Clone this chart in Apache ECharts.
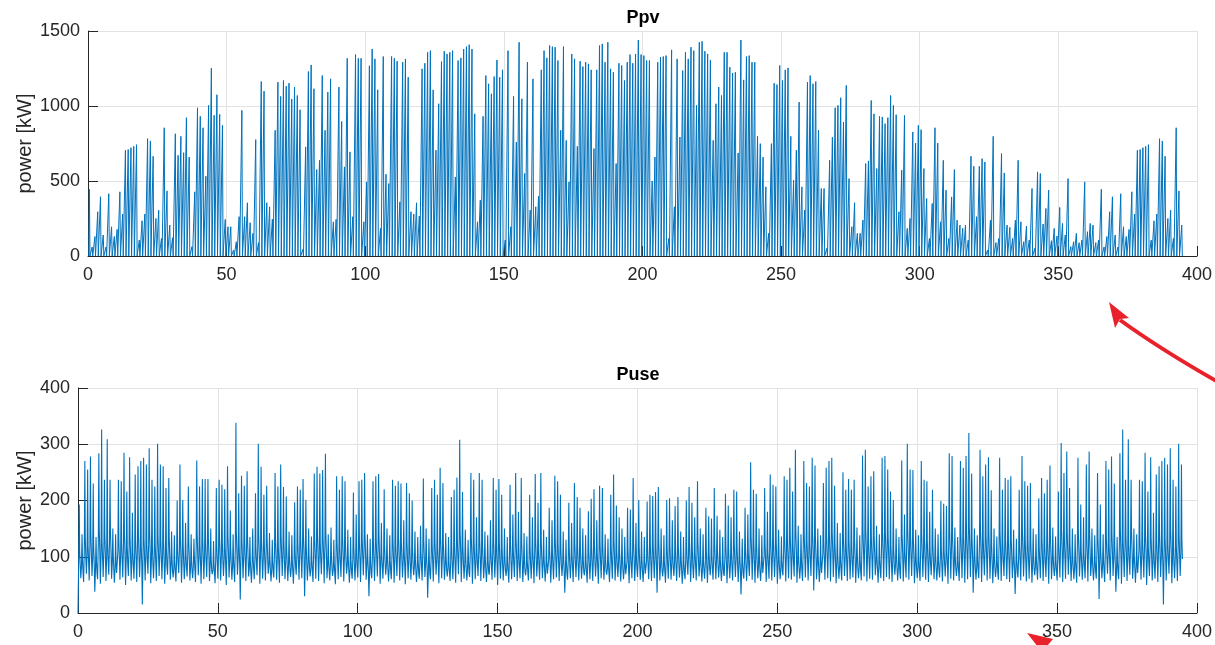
<!DOCTYPE html>
<html><head><meta charset="utf-8">
<script src="https://cdn.jsdelivr.net/npm/echarts@6/dist/echarts.min.js"></script>
<style>html,body{margin:0;padding:0;background:#fff;}#c{width:1215px;height:645px;}</style>
</head><body><div id="c"></div>
<script>
// x axis ticks (days)
const xMin = 0, xMax = 400, xStep = 50;
const ppvTicks = {min: 0, max: 1500, step: 500};
const puseTicks = {min: 0, max: 400, step: 100};
const titles = ['Ppv', 'Puse'];
const yName = 'power [kW]';

// Ppv: daily peak value [kW] (nights are 0), day 0..394
const ppvPeak = [
445,60,130,295,395,140,60,415,195,130,177,428,280,705,710,722,731,742,106,235,
280,782,767,665,250,305,117,855,434,206,122,815,671,798,689,922,660,62,428,988,
931,855,532,1004,1252,938,1075,944,871,244,195,195,40,95,262,971,262,355,222,151,
776,89,1163,1099,355,328,246,838,1159,1064,1170,1132,1152,1046,1126,1070,975,44,727,1230,
1274,1115,576,638,1203,838,1092,1181,228,244,1126,897,594,1318,694,262,1343,1318,1318,228,
494,1268,1380,1314,1108,184,1330,545,483,1330,1318,1299,361,1292,1314,1192,295,279,355,266,
1248,1285,1358,1369,1108,705,1015,1296,1365,1347,1358,1369,527,1303,1321,1380,1396,1409,1380,948,
228,372,931,1203,1148,1081,1196,1307,1192,1241,106,1369,195,1064,760,1425,1048,550,1292,306,
1181,328,399,1241,1369,1321,1403,1396,1392,1303,838,1396,771,494,1347,1314,731,1299,1263,1292,
1281,1241,716,1241,1403,1414,1292,1425,1248,1225,616,1285,1270,1170,1292,1343,1285,1347,1440,1343,
1336,1303,1303,500,660,1292,1325,1330,1336,117,1374,328,1314,793,1236,1358,1314,1392,1369,1004,
1425,1431,1365,1347,1307,771,1015,1126,1070,1358,1358,1259,1219,1225,687,1440,1174,1330,1336,1292,
1292,798,749,660,461,151,749,1152,1143,1270,1170,1241,1254,798,505,705,1026,461,306,1159,
1203,1148,1163,838,450,450,51,638,793,988,1004,1055,893,1137,516,195,355,151,151,239,
616,634,1037,948,583,931,927,882,922,1070,1004,942,295,572,937,184,250,827,753,871,
842,583,383,117,350,855,753,228,638,439,117,394,576,239,206,184,206,106,665,598,
262,598,649,627,40,239,798,89,117,683,554,206,191,117,239,638,228,95,199,106,
450,51,561,550,213,317,439,102,184,133,324,217,140,516,62,95,151,89,106,494,
162,217,206,89,106,
445,60,130,295,395,140,60,415,195,130,177,428,280,705,710,722,731,742,106,235,
280,782,767,665,250,305,117,855,434,206
];

// Puse: daily peak [kW], day 0..394
const pusePeak = [
193,140,270,255,278,230,135,284,326,237,309,237,150,140,237,234,285,216,277,178,
246,261,270,276,264,293,237,225,301,264,261,222,240,145,138,200,264,201,160,225,
140,132,271,225,238,238,238,150,128,222,237,228,220,261,182,140,338,213,244,226,
252,135,150,213,301,260,210,226,142,130,249,225,264,224,207,145,138,197,225,219,
238,201,150,136,248,260,248,254,283,140,152,130,243,219,243,234,148,135,214,175,
234,237,249,140,132,234,243,247,160,220,150,138,237,226,234,230,165,231,213,200,
145,135,155,239,150,132,222,237,210,258,231,142,135,206,219,241,308,215,148,130,
249,237,170,249,237,145,138,165,240,219,238,210,150,135,228,175,249,180,240,142,
136,210,170,247,196,249,148,135,187,165,244,234,210,145,130,196,160,231,206,187,
150,138,181,203,220,165,226,222,140,132,210,246,191,170,150,135,187,184,240,160,
201,145,135,198,210,208,215,224,150,138,201,204,165,190,206,145,135,200,224,196,
170,234,150,140,187,172,168,222,173,148,135,212,191,170,219,216,145,132,187,175,
268,219,212,150,138,222,180,246,228,225,148,136,243,237,258,216,290,155,140,270,
231,225,276,262,150,138,231,258,270,276,226,160,142,250,219,238,219,237,152,138,
280,290,225,243,252,155,140,276,279,255,216,201,150,135,271,175,301,255,254,148,
138,270,237,234,180,219,150,140,199,194,190,284,279,152,135,270,258,279,320,248,
150,138,290,243,264,277,218,150,136,276,219,240,237,243,148,132,219,279,234,226,
231,150,140,204,240,213,237,262,152,136,216,302,249,287,222,150,140,276,193,170,
264,287,150,138,249,
193,140,270,255,278,230,135,284,326,237,309,237,150,140,237,234,285,216,277,178,
246,261,270,276,264,293,237,225,301,264
];

// Puse: night low [kW], day 0..394
const puseLow = [
0,62,55,70,58,66,38,60,52,64,57,68,61,54,72,59,63,50,66,58,
61,55,64,15,58,70,53,62,57,66,60,52,68,59,63,56,71,54,60,65,
58,62,55,67,52,60,64,57,69,53,61,58,66,50,63,59,55,68,24,62,
57,65,54,60,67,52,61,58,70,56,63,59,54,66,60,57,64,52,68,59,
62,30,58,65,55,61,57,69,53,62,58,66,51,60,64,56,70,54,61,58,
63,55,67,59,30,62,57,65,52,61,68,56,60,54,66,58,63,51,62,59,
67,55,61,58,64,27,60,56,68,53,62,59,65,57,60,54,69,55,61,58,
64,52,60,66,57,62,55,68,59,63,50,61,58,66,54,60,64,57,62,55,
67,58,61,53,65,59,62,56,68,54,60,63,57,66,36,59,62,55,64,58,
61,67,54,60,57,65,52,62,59,68,55,61,58,64,56,60,66,53,62,57,
64,59,55,67,60,57,62,36,58,65,54,61,59,66,57,63,52,60,68,55,
62,58,65,56,61,54,67,59,60,63,57,66,53,62,58,64,55,33,61,57,
66,59,54,62,57,68,55,61,58,64,52,60,67,56,62,59,65,54,61,57,
63,58,66,40,60,55,68,59,62,56,64,53,61,58,66,57,60,63,54,62,
58,65,56,61,59,67,54,62,57,64,60,55,68,58,61,56,63,59,66,53,
62,57,64,59,55,67,60,58,63,56,65,52,61,58,66,57,62,54,60,64,
36,59,62,55,67,58,61,53,64,59,57,66,60,55,62,34,63,58,65,56,
61,54,67,59,62,57,64,52,60,66,58,63,55,61,68,57,60,54,65,59,
62,56,66,58,61,
25,62,55,70,58,66,38,60,52,64,57,68,61,54,72,59,63,50,66,58,
61,55,64,15,58,70,53,62,57,66
];

// Puse: morning level [kW], day 0..394
const puseMorn = [
96,84,112,104,118,99,78,121,108,115,101,124,88,80,110,106,119,97,114,92,
105,117,100,109,103,122,95,101,116,108,104,93,113,84,79,98,111,97,89,106,
82,86,118,100,107,104,113,85,77,99,110,103,96,115,94,83,121,98,107,104,
112,81,87,97,118,106,100,109,84,79,108,98,116,104,93,85,82,91,103,108,
114,96,86,80,110,117,104,113,119,83,88,78,106,98,112,102,85,80,96,90,
104,110,115,84,78,102,108,114,90,98,86,81,106,100,111,103,94,105,96,93,
83,79,93,108,87,77,100,106,95,113,102,85,80,94,98,110,121,96,86,79,
112,104,95,108,102,84,81,94,106,98,104,94,87,78,103,95,110,92,105,83,
80,96,93,108,92,106,86,79,95,91,108,103,95,85,77,93,89,102,96,95,
84,80,93,94,100,91,104,98,83,79,96,108,90,92,86,78,92,93,106,88,
96,83,79,93,98,100,96,104,85,80,94,98,89,90,97,84,77,95,102,91,
92,106,86,81,90,89,88,100,94,83,79,98,91,90,102,96,85,78,92,92,
117,102,98,84,80,102,94,110,104,103,86,81,112,108,116,100,124,87,82,117,
106,104,119,113,86,80,106,114,117,122,102,89,83,112,100,108,98,109,87,81,
124,126,104,112,116,88,82,119,121,113,98,94,87,80,117,95,126,113,112,86,
81,117,108,106,95,102,87,82,96,97,95,122,119,88,81,117,113,121,130,110,
87,82,124,108,115,119,100,86,80,121,102,108,106,110,87,81,100,121,106,104,
105,88,83,98,108,98,106,115,89,81,100,126,112,122,102,87,82,119,96,90,
115,122,87,81,112,
96,84,112,104,118,99,78,121,108,115,101,124,88,80,110,106,119,97,114,92,
105,117,100,109,103,122,95,101,116,108
];

// Puse: afternoon level [kW], day 0..394
const puseMid = [
110,95,135,120,142,118,92,150,128,138,122,145,100,90,130,125,140,118,136,112,
128,140,120,132,125,146,118,122,138,130,127,116,135,98,92,115,134,120,105,128,
95,100,140,122,130,126,136,98,90,120,132,125,118,138,115,96,145,120,130,126,
135,94,100,118,140,128,122,132,97,92,130,120,138,126,115,98,95,112,125,130,
136,118,100,94,132,140,126,135,142,96,102,90,128,120,134,125,98,93,118,110,
126,132,138,97,91,124,130,136,104,120,99,94,128,122,134,125,110,127,118,115,
96,92,108,130,100,90,122,128,117,136,124,98,93,115,120,132,145,118,99,92,
134,126,112,130,124,97,94,110,128,120,126,116,100,91,125,112,132,114,127,96,
93,118,110,130,114,128,99,92,112,108,130,125,117,98,90,115,106,124,118,112,
97,93,110,116,122,108,126,120,96,92,118,130,112,108,99,91,114,110,128,104,
118,96,92,115,120,122,118,126,98,93,116,120,105,112,119,97,90,117,124,113,
108,128,99,94,112,106,104,122,110,96,92,120,113,106,124,118,98,91,114,108,
140,124,120,97,93,124,110,132,126,125,99,94,134,130,138,122,148,100,95,140,
128,126,142,136,99,93,128,137,140,145,124,102,96,135,122,130,120,131,100,94,
148,150,126,134,138,101,95,142,144,136,120,114,100,93,140,110,150,136,135,99,
94,140,130,128,110,124,100,95,115,112,110,146,142,101,94,140,136,144,155,132,
100,95,148,130,138,142,122,99,93,144,124,130,128,132,100,94,122,144,128,126,
127,101,96,118,130,120,128,138,102,94,122,150,134,146,124,100,95,142,112,105,
138,146,100,94,134,
110,95,135,120,142,118,92,150,128,138,122,145,100,90,130,125,140,118,136,112,
128,140,120,132,125,146,118,122,138,130
];

// Puse: evening level [kW], day 0..394
const puseEve = [
85,72,98,90,104,88,70,108,95,101,89,110,78,71,97,93,105,86,100,82,
94,103,88,97,91,108,84,89,102,96,92,82,99,74,70,86,98,87,79,95,
72,76,104,89,94,92,100,75,69,88,97,91,85,102,83,73,107,87,95,92,
99,71,77,86,104,94,89,97,74,70,96,87,102,92,83,75,72,81,91,96,
101,85,76,71,97,104,92,100,106,73,78,69,94,87,99,91,75,71,86,80,
93,97,102,74,69,90,96,101,80,87,76,72,94,89,98,92,83,93,86,82,
73,70,82,96,77,68,89,94,85,100,91,75,71,84,87,98,108,86,76,70,
99,92,84,96,90,74,72,83,94,87,92,84,77,69,91,84,98,81,93,73,
71,85,82,96,81,94,76,70,84,80,96,91,85,75,68,83,79,90,85,84,
74,71,82,84,89,80,92,87,73,70,85,96,80,81,76,69,82,82,94,78,
85,73,70,82,87,89,85,92,75,71,83,87,79,80,86,74,68,84,90,81,
81,94,76,72,80,78,77,89,83,73,70,87,80,79,90,85,75,69,81,81,
104,90,87,74,71,90,83,97,92,91,76,72,99,95,103,88,110,77,73,104,
94,92,106,100,76,71,94,101,104,108,90,79,74,99,89,96,87,97,77,72,
110,112,92,99,103,78,73,106,107,100,87,83,77,71,104,84,112,100,99,76,
72,104,96,94,84,90,77,73,85,86,84,108,106,78,72,104,100,107,116,97,
77,73,110,96,102,106,89,76,71,107,90,96,94,97,77,72,89,107,94,92,
93,78,74,87,96,87,94,102,79,72,89,112,99,108,90,77,73,106,85,80,
102,108,77,72,99,
85,72,98,90,104,88,70,108,95,101,89,110,78,71,97,93,105,86,100,82,
94,103,88,97,91,108,84,89,102,96
];

// ---- build series data (day index -> x position in days) ----
const ppvData = [];
ppvPeak.forEach((v, d) => { ppvData.push([d + 0.29, 0], [d + 0.5, v], [d + 0.71, 0]); });
const puseData = [];
pusePeak.forEach((v, d) => {
  puseData.push([d, puseLow[d]], [d + 0.25, puseMorn[d]], [d + 0.45, v],
                [d + 0.6, puseMid[d]], [d + 0.8, puseEve[d]]);
});

const FONT = '"Liberation Sans", Arial, Helvetica, sans-serif';
const AX = '#262626';
const GRIDC = '#e2e2e2';
const RED = '#E8212B';

function xAxisCfg(i) {
  return {
    gridIndex: i, type: 'value', min: xMin, max: xMax, interval: xStep,
    axisLine: {show: true, onZero: false, lineStyle: {color: AX, width: 1}},
    axisTick: {show: true, inside: true, length: 10, lineStyle: {color: AX}},
    axisLabel: {color: AX, fontSize: 18, fontFamily: FONT, margin: 10, formatter: v => String(v)},
    splitLine: {show: true, lineStyle: {color: GRIDC, width: 1}}
  };
}
function yAxisCfg(i, t, gap) {
  return {
    gridIndex: i, type: 'value', min: t.min, max: t.max, interval: t.step,
    name: yName, nameLocation: 'middle', nameGap: gap, nameRotate: 90,
    nameMoveOverlap: false,
    nameTextStyle: {color: AX, fontSize: 20, fontFamily: FONT},
    axisLine: {show: true, lineStyle: {color: AX, width: 1}},
    axisTick: {show: true, inside: true, length: 10, lineStyle: {color: AX}},
    axisLabel: {color: AX, fontSize: 18, fontFamily: FONT, margin: 8, formatter: v => String(v)},
    splitLine: {show: true, lineStyle: {color: GRIDC, width: 1}}
  };
}

const chart = echarts.init(document.getElementById('c'), null, {renderer: 'canvas'});
chart.setOption({
  animation: false,
  backgroundColor: '#fff',
  title: [
    {text: titles[0], left: 643, top: 9, textAlign: 'center', padding: 0,
     textStyle: {fontFamily: FONT, fontSize: 18, fontWeight: 'bold', color: '#000'}},
    {text: titles[1], left: 638, top: 366, textAlign: 'center', padding: 0,
     textStyle: {fontFamily: FONT, fontSize: 18, fontWeight: 'bold', color: '#000'}}
  ],
  grid: [
    {left: 88, right: 17, top: 31, height: 225},
    {left: 78, right: 17, top: 388, height: 225}
  ],
  xAxis: [xAxisCfg(0), xAxisCfg(1)],
  yAxis: [yAxisCfg(0, ppvTicks, 53), yAxisCfg(1, puseTicks, 43)],
  series: [
    {type: 'line', xAxisIndex: 0, yAxisIndex: 0, data: ppvData, symbol: 'none', showSymbol: false,
     sampling: null, lineStyle: {color: '#0072BD', width: 1}, z: 3},
    {type: 'line', xAxisIndex: 1, yAxisIndex: 1, data: puseData, symbol: 'none', showSymbol: false,
     sampling: null, lineStyle: {color: '#0072BD', width: 1.1}, z: 3}
  ],
  graphic: [
    {type: 'bezierCurve', shape: {x1: 1218, y1: 382, x2: 1120, y2: 320, cpx1: 1160, cpy1: 349},
     style: {stroke: RED, lineWidth: 4, fill: 'none'}, z: 10},
    {type: 'polygon', shape: {points: [[1109, 302], [1129, 318], [1120, 319], [1115, 328]]},
     style: {fill: RED}, z: 10},
    {type: 'polygon', shape: {points: [[1027, 633], [1053, 639], [1042, 652]]},
     style: {fill: RED}, z: 10}
  ]
});
</script>
</body></html>
